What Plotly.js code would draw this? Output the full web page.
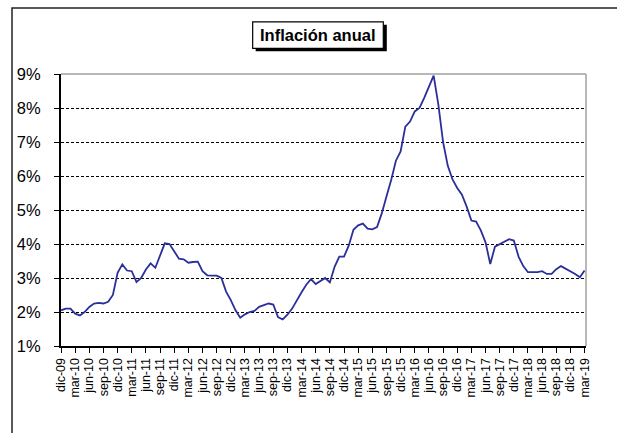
<!DOCTYPE html>
<html>
<head>
<meta charset="utf-8">
<script src="https://cdn.plot.ly/plotly-3.0.1.min.js"></script>
<style>html,body{margin:0;padding:0;background:#fff;}#chart{width:617px;height:433px;}</style>
</head>
<body>
<div id="chart"></div>
<script>
// Month abbreviations (Spanish) and period covered: dic-09 .. mar-19
const monthNames = ['ene','feb','mar','abr','may','jun','jul','ago','sep','oct','nov','dic'];
const startYear = 2009, startMonth = 11; // dic-09
const nMonths = 112;

// Inflación anual (%), monthly, dic-09 .. mar-19
const inflation = [
  2.05, 2.10, 2.10, 1.95, 1.90, 2.00, 2.15, 2.25, 2.27, 2.25, 2.30, 2.50,
  3.15, 3.40, 3.22, 3.20, 2.88, 3.00, 3.25, 3.43, 3.30, 3.68, 4.02, 4.00,
  3.80, 3.57, 3.55, 3.45, 3.47, 3.48, 3.20, 3.08, 3.07, 3.07, 3.00, 2.60,
  2.35, 2.05, 1.83, 1.93, 2.00, 2.03, 2.15, 2.20, 2.25, 2.22, 1.85, 1.78,
  1.92, 2.10, 2.35, 2.58, 2.80, 2.97, 2.82, 2.90, 3.00, 2.87, 3.33, 3.63,
  3.63, 3.95, 4.42, 4.55, 4.60, 4.45, 4.43, 4.50, 4.90, 5.40, 5.88, 6.45,
  6.72, 7.45, 7.60, 7.90, 8.00, 8.30, 8.63, 8.95, 8.10, 7.00, 6.30, 5.90,
  5.65, 5.45, 5.10, 4.69, 4.66, 4.40, 4.05, 3.41, 3.92, 4.00, 4.08, 4.14,
  4.10, 3.63, 3.35, 3.17, 3.17, 3.17, 3.20, 3.12, 3.12, 3.26, 3.35, 3.28,
  3.20, 3.12, 3.02, 3.22
];

const monthLabels = [];
for (let k = 0; k < nMonths; k++) {
  const m = (startMonth + k) % 12;
  const y = startYear + Math.floor((startMonth + k) / 12);
  monthLabels.push(monthNames[m] + '-' + String(y % 100).padStart(2, '0'));
}
const tickLabels = monthLabels.filter((_, k) => k % 3 === 0);

const yTicks = [1, 2, 3, 4, 5, 6, 7, 8, 9];
const titleText = 'Inflación anual';

const trace = {
  x: monthLabels,
  y: inflation,
  type: 'scatter',
  mode: 'lines',
  line: {color: '#2b2f9a', width: 1.8},
  hoverinfo: 'x+y'
};

const layout = {
  width: 617, height: 433,
  margin: {l: 61, r: 31, t: 74, b: 87},
  paper_bgcolor: '#ffffff',
  plot_bgcolor: '#ffffff',
  showlegend: false,
  font: {family: 'Arial, "Liberation Sans", sans-serif', color: '#000'},
  xaxis: {
    type: 'category',
    range: [0, 111.3],
    tickmode: 'array',
    tickvals: tickLabels,
    ticktext: tickLabels,
    tickangle: -90,
    tickfont: {size: 12.5, color: '#000'},
    ticks: 'outside', ticklen: 5, tickwidth: 1, tickcolor: '#000',
    showline: true, linecolor: '#000', linewidth: 2,
    showgrid: false, zeroline: false, fixedrange: true
  },
  yaxis: {
    range: [1, 9],
    tickmode: 'array',
    tickvals: yTicks,
    ticktext: yTicks.map(v => v + '%'),
    tickfont: {size: 16.5, color: '#000'},
    ticklabelstandoff: 10,
    ticks: 'outside', ticklen: 5, tickwidth: 1, tickcolor: '#000',
    showline: true, linecolor: '#000', linewidth: 2,
    showgrid: true, gridcolor: '#000', gridwidth: 1, griddash: '3px,2px',
    zeroline: false, fixedrange: true
  },
  shapes: [
    // outer frame
    {type: 'rect', xref: 'paper', yref: 'paper', x0: -0.0933, x1: 1.3, y0: -0.6, y1: 1.2426,
     line: {color: '#222', width: 1.5}, fillcolor: 'rgba(0,0,0,0)', layer: 'below'},
    // plot area border (top/right grey)
    {type: 'line', xref: 'paper', yref: 'paper', x0: 0, x1: 1, y0: 1, y1: 1, line: {color: '#a0a0a0', width: 1.5}},
    {type: 'line', xref: 'paper', yref: 'paper', x0: 1, x1: 1, y0: 0, y1: 1, line: {color: '#a0a0a0', width: 1.5}},
    // title box shadow
    {type: 'rect', xref: 'paper', yref: 'paper', x0: 0.3708, x1: 0.6206, y0: 1.0835, y1: 1.181,
     line: {width: 0}, fillcolor: '#000'},
    // title box
    {type: 'rect', xref: 'paper', yref: 'paper', x0: 0.3651, x1: 0.6139, y0: 1.0945, y1: 1.192,
     line: {color: '#000', width: 1.2}, fillcolor: '#fff'}
  ],
  annotations: [
    {xref: 'paper', yref: 'paper', x: 0.4895, y: 1.143, xanchor: 'center', yanchor: 'middle',
     text: '<b>' + titleText + '</b>', showarrow: false,
     font: {size: 16.5, color: '#000', family: 'Arial, "Liberation Sans", sans-serif'}}
  ]
};

Plotly.newPlot('chart', [trace], layout, {displayModeBar: false, staticPlot: true});
</script>
</body>
</html>
